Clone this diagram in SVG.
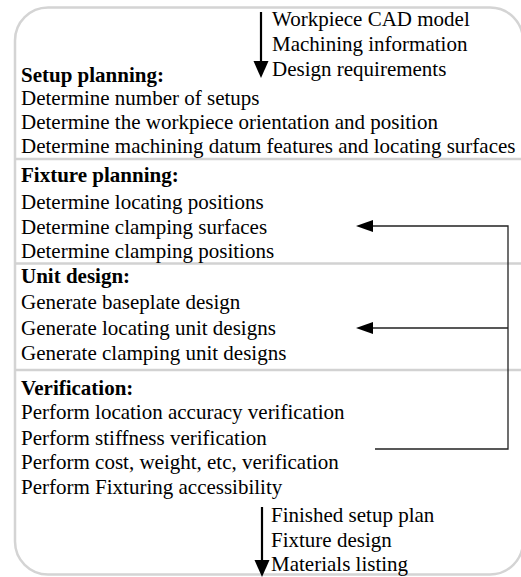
<svg xmlns="http://www.w3.org/2000/svg" width="521" height="577" viewBox="0 0 521 577">
<style>
text{font-family:"Liberation Serif","Times New Roman",serif;font-size:21px;fill:#000}
.h{font-weight:bold}
.frame{fill:#fff;stroke:#d4d4d4;stroke-width:2.5}
.sep{stroke:#d2d2d2;stroke-width:2.5}
.fb{fill:none;stroke:#222;stroke-width:1.3}
.io{stroke:#000;stroke-width:2.2}
</style>
<rect width="521" height="577" fill="#fff"/>
<rect class="frame" x="15" y="7.5" width="508" height="567" rx="33"/>
<g id="separators">
<line class="sep" x1="15" y1="159" x2="521" y2="159"/>
<line class="sep" x1="15" y1="263.5" x2="521" y2="263.5"/>
<line class="sep" x1="15" y1="370" x2="521" y2="370"/>
</g>
<g id="input">
<text x="272" y="26">Workpiece CAD model</text>
<text x="272" y="51">Machining information</text>
<text x="272" y="76">Design requirements</text>
</g>
<g id="setup-planning">
<text class="h" x="21" y="82">Setup planning:</text>
<text x="21" y="105">Determine number of setups</text>
<text x="21" y="129">Determine the workpiece orientation and position</text>
<text x="21" y="153">Determine machining datum features and locating surfaces</text>
</g>
<g id="fixture-planning">
<text class="h" x="21" y="182">Fixture planning:</text>
<text x="21" y="209">Determine locating positions</text>
<text x="21" y="234">Determine clamping surfaces</text>
<text x="21" y="258">Determine clamping positions</text>
</g>
<g id="unit-design">
<text class="h" x="21" y="283">Unit design:</text>
<text x="21" y="309">Generate baseplate design</text>
<text x="21" y="335">Generate locating unit designs</text>
<text x="21" y="360">Generate clamping unit designs</text>
</g>
<g id="verification">
<text class="h" x="21" y="395">Verification:</text>
<text x="21" y="419">Perform location accuracy verification</text>
<text x="21" y="445">Perform stiffness verification</text>
<text x="21" y="469">Perform cost, weight, etc, verification</text>
<text x="21" y="494">Perform Fixturing accessibility</text>
</g>
<g id="output">
<text x="271" y="522">Finished setup plan</text>
<text x="271" y="547">Fixture design</text>
<text x="271" y="571">Materials listing</text>
</g>
<g id="connectors">
<line class="io" x1="261" y1="12" x2="261" y2="64"/>
<polygon points="253.5,61 268.5,61 261,78"/>
<line class="io" x1="262" y1="507" x2="262" y2="562"/>
<polygon points="254.5,560 269.5,560 262,577"/>
<path class="fb" d="M375,449 H508 V226 H370 M508,328 H370"/>
<polygon points="356,226 373,220 373,232"/>
<polygon points="356,328 373,322 373,334"/>
</g>
</svg>
